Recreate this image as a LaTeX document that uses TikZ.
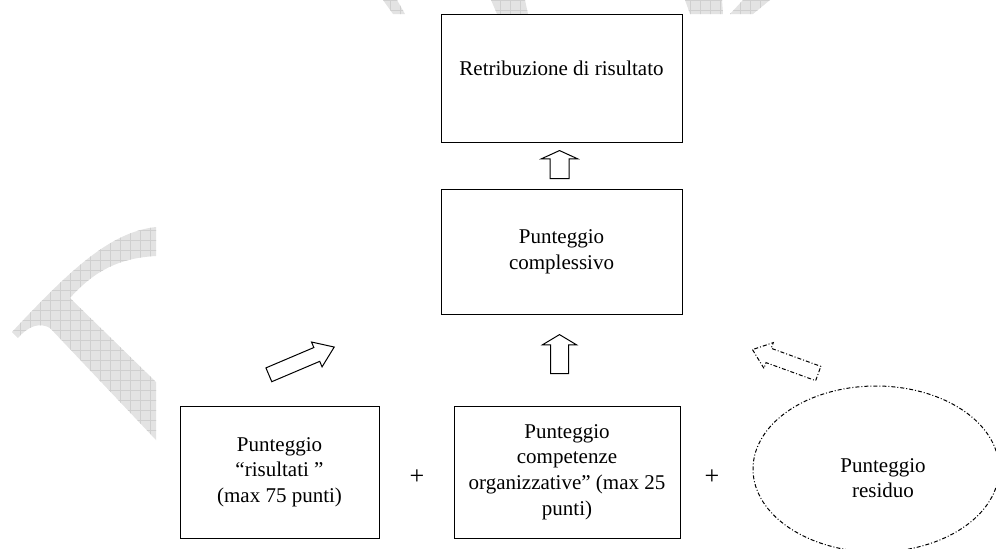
\documentclass[tikz,border=0pt]{standalone}
\usepackage{fontspec}
\setmainfont{Liberation Serif}
\usetikzlibrary{positioning,shapes.geometric,shapes.arrows}

\begin{document}
\begin{tikzpicture}[x=0.5pt, y=-0.5pt, every node/.style={font=\fontsize{10.5}{12.8}\selectfont}, box/.style={draw,line width=0.5pt,align=center,minimum width=120.5pt,minimum height=64pt}, blk/.style={draw,single arrow,line width=0.5pt,inner xsep=0pt,text height=0pt,text depth=0pt,anchor=tip}, dashdot/.style={dash pattern=on 2pt off 1pt on 0.5pt off 1pt}, wm/.style={fill=black!11}, wmgrid/.style={draw=black!19,line width=0.3pt}]
\useasboundingbox (0,0) rectangle (996,548);
\clip (0,0) rectangle (996,548);
% watermark
\begin{scope}
\clip (156,227) .. controls (110,232) and (70,270) .. (12,332) -- (18,338) .. controls (28,326) and (40,322) .. (50,328) -- (156,440) -- (156,382) -- (70,298) .. controls (95,270) and (120,258) .. (156,256) -- cycle
  (383,0) -- (397,0) -- (405,14) -- (393,14) -- cycle
  (491,0) -- (525,0) -- (528,14) -- (497,14) -- cycle
  (685,0) -- (722,0) -- (723,14) -- (690,14) -- cycle
  (743,0) -- (770,0) -- (753,14) -- (730,14) -- cycle;
\fill[wm] (0,0) rectangle (996,548);
\draw[wmgrid] (0,0) grid[step=5pt] (996,548);
\end{scope}
% boxes
\node[box,label={[yshift=5pt]center:Retribuzione di risultato}] (retr) at (561.5,78) {};
\node[box,minimum height=62.5pt] (tot) at (561.5,251.5) {Punteggio\\complessivo};
\node[box,minimum width=99.5pt,minimum height=66pt] (ris) at (279.5,472) {Punteggio\\``risultati ''\\(max 75 punti)};
\node[box,minimum width=113pt,minimum height=66pt] (comp) at (567,472) {Punteggio\\competenze\\organizzative'' (max 25\\punti)};
\node[draw,ellipse,dashdot,line width=0.5pt,minimum width=123pt,minimum height=83pt,label={[align=center,xshift=3.5pt,yshift=-4.5pt]center:Punteggio\\residuo}] (resid) at (876,469) {};
\node[font=\fontsize{13}{15}\selectfont] (plusA) at (417,477) {+};
\node[font=\fontsize{13}{15}\selectfont] (plusB) at (712,477) {+};
% block arrows
\node[blk,inner ysep=4.5pt,minimum height=14pt,minimum width=17.5pt,single arrow head extend=4.25pt,single arrow tip angle=131,rotate=90] (upA) at (559.5,150) {};
\node[blk,inner ysep=4.25pt,minimum height=19.5pt,minimum width=16.5pt,single arrow head extend=4pt,single arrow tip angle=118,rotate=90] (upB) at (559.5,334) {};
\node[blk,inner ysep=3.5pt,minimum height=35.5pt,minimum width=13pt,single arrow head extend=3pt,single arrow tip angle=71,rotate=23] (upC) at (335,346.7) {};
\node[blk,dashdot,inner ysep=3.55pt,minimum height=35pt,minimum width=13.2pt,single arrow head extend=3.05pt,single arrow tip angle=77,rotate=160] (upD) at (751.7,349.3) {};
\end{tikzpicture}
\end{document}
